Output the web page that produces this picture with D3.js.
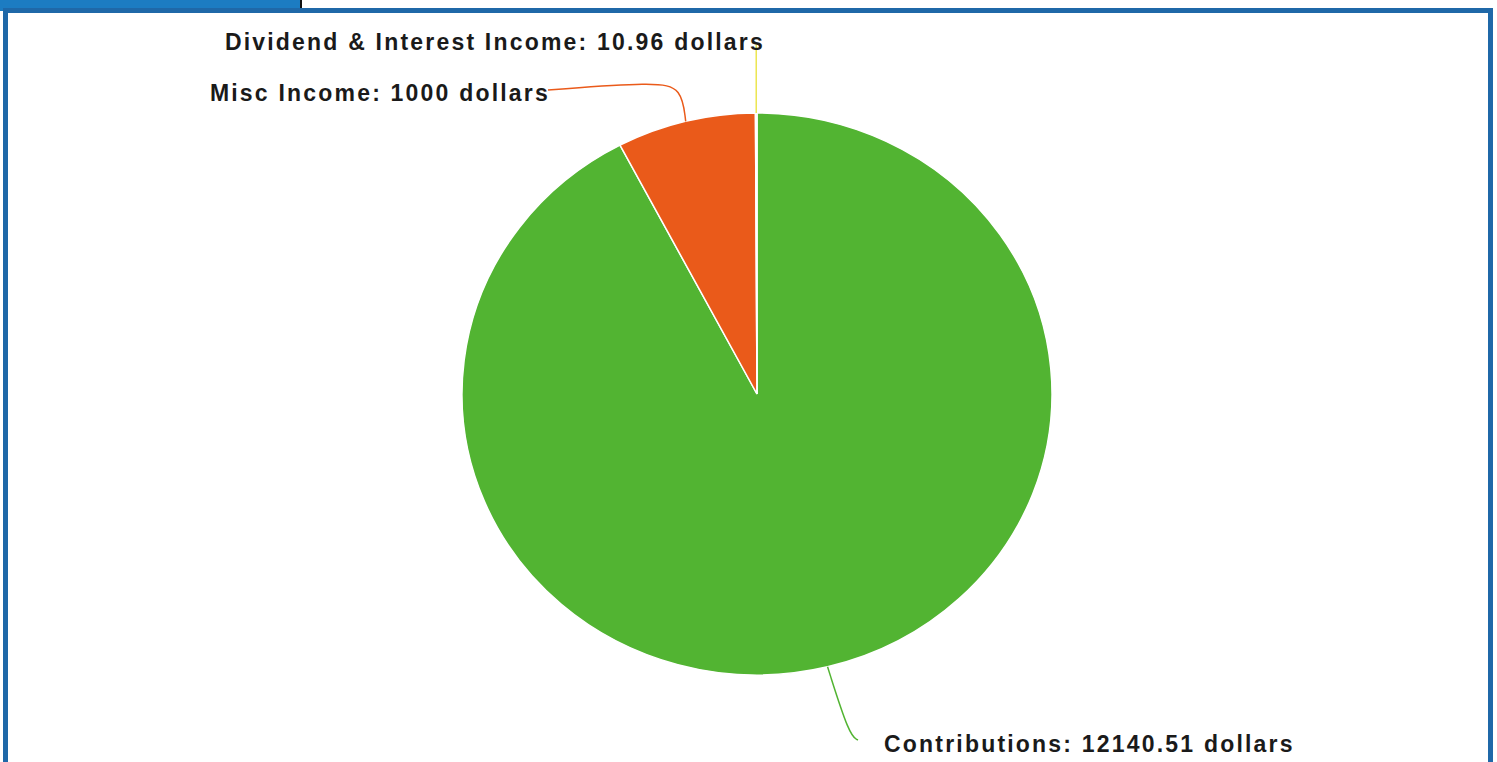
<!DOCTYPE html>
<html lang="en">
<head>
    <meta charset="utf-8"/>
    <script src="https://d3js.org/d3.v7.min.js"></script>
    <title>Income</title>
    <style>
        body { margin: 0; background: #fff; overflow: hidden; }
        svg { display: block; }
        .lbl { font-family: "Liberation Sans", Arial, sans-serif; font-weight: bold; font-size: 23px; fill: #1a1a1a; letter-spacing: 2.2px; }
    </style>
</head>
<body>
<svg></svg>
<script>
    const categories = ["Contributions", "Misc Income", "Dividend & Interest Income"];
    const amounts = [12140.51, 1000, 10.96];
    const colors = ["#52b432", "#ea5a1a", "#ece650"];

    const width = 1497, height = 762;
    const svg = d3.select("svg").attr("width", width).attr("height", height);

    // frame + tab
    svg.append("rect").attr("x", 0).attr("y", 0).attr("width", 300).attr("height", 11).attr("fill", "#1c7cc2");
    svg.append("line").attr("x1", 301).attr("x2", 301).attr("y1", 0).attr("y2", 11).attr("stroke", "#111").attr("stroke-width", 2);
    svg.append("rect").attr("x", 5.5).attr("y", 10.5).attr("width", 1485).attr("height", 760)
        .attr("fill", "#fff").attr("stroke", "#1f68a8").attr("stroke-width", 5);

    const cx = 757, cy = 394, rx = 295, ry = 281;
    const data = categories.map((c, i) => ({name: c, value: amounts[i], color: colors[i]}));
    const pie = d3.pie().value(d => d.value).sort(null);
    const arcs = pie(data);
    const arc = d3.arc().innerRadius(0).outerRadius(ry);

    const g = svg.append("g").attr("transform", `translate(${cx},${cy}) scale(${rx / ry},1)`);
    g.selectAll("path").data(arcs).enter().append("path")
        .attr("d", arc)
        .attr("fill", d => d.data.color)
        .attr("stroke", "#fff")
        .attr("stroke-width", 1.5)
        .attr("vector-effect", "non-scaling-stroke");

    function edge(a) {
        const m = (a.startAngle + a.endAngle) / 2;
        return [cx + rx * Math.sin(m), cy - ry * Math.cos(m)];
    }

    // leader lines and labels
    const labels = [
        {i: 0, pts: p => [p, [p[0] + 22, 736], [858, 740]], tx: 884, ty: 752, anchor: "start"},
        {i: 1, pts: p => [p, [p[0] - 4, 88], [p[0] - 30, 82], [548, 90]], tx: 550, ty: 101, anchor: "end"},
        {i: 2, pts: p => [p, [p[0], 45]], tx: 765, ty: 50, anchor: "end"}
    ];
    const line = d3.line().curve(d3.curveBasis);
    labels.forEach(l => {
        const a = arcs[l.i];
        const p = edge(a);
        svg.append("path").attr("d", line(l.pts(p)))
            .attr("fill", "none").attr("stroke", a.data.color).attr("stroke-width", 1.5);
        svg.append("text").attr("class", "lbl")
            .attr("x", l.tx).attr("y", l.ty).attr("text-anchor", l.anchor)
            .text(`${a.data.name}: ${a.data.value} dollars`);
    });
</script>
</body>
</html>
